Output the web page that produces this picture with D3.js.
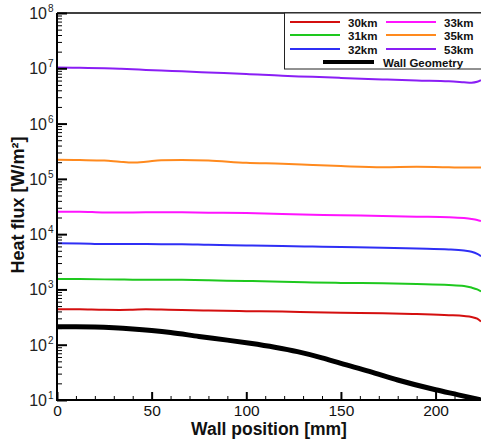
<!DOCTYPE html>
<html>
<head>
<meta charset="utf-8">
<script src="https://cdn.jsdelivr.net/npm/d3@7"></script>
<style>
  html, body { margin: 0; padding: 0; background: #fff; }
  svg { display: block; font-family: "Liberation Sans", Arial, sans-serif; }
</style>
</head>
<body>
<svg id="chart" width="481" height="439"></svg>
<script>
// ---- data ----
const xPos = [0, 12, 25, 33, 40, 47, 55, 66, 80, 100, 119, 135, 150, 172, 190, 207, 215, 219, 222, 224];
const flux30 = [438, 436, 427, 426, 430, 436, 432, 425, 415, 405, 397, 385, 378, 372, 358, 342, 330, 318, 295, 262];
const flux31 = [1550, 1540, 1520, 1510, 1500, 1500, 1500, 1490, 1460, 1420, 1380, 1340, 1310, 1290, 1250, 1200, 1150, 1080, 1000, 920];
const flux32 = [6850, 6800, 6600, 6600, 6600, 6600, 6580, 6550, 6400, 6250, 6100, 5950, 5850, 5700, 5500, 5300, 5050, 4800, 4400, 4000];
const flux33 = [25500, 25500, 24600, 24600, 24700, 24800, 25000, 24900, 24500, 24000, 23200, 22500, 22000, 21300, 20700, 20200, 19500, 18800, 18000, 17200];
const flux35 = [222000, 219000, 214000, 204000, 197000, 204000, 218000, 220000, 215000, 195000, 188000, 178000, 170000, 162000, 165000, 162000, 160000, 160000, 160000, 160000];
const flux53 = [1.03e7, 1.02e7, 1.0e7, 9.8e6, 9.6e6, 9.35e6, 9.1e6, 8.8e6, 8.4e6, 7.9e6, 7.3e6, 7.0e6, 6.7e6, 6.3e6, 6.0e6, 5.8e6, 5.6e6, 5.5e6, 5.7e6, 6.1e6];
const wallX = [0, 10, 20, 30, 40, 50, 60, 75, 90, 102, 115, 127, 140, 150, 165, 180, 200, 212, 224];
const wallY = [212, 212, 209, 202, 192, 180, 166, 141, 121, 106, 90, 75, 58, 46, 33, 23, 15.3, 12.4, 10];
const seriesNames = ["30km", "31km", "32km", "33km", "35km", "53km"];
const seriesColors = ["#d40f0f", "#1ec81e", "#2f2ff5", "#ff14ff", "#ff8a1e", "#8a1ef5"];
const xTicks = [0, 50, 100, 150, 200];
const yExponents = [1, 2, 3, 4, 5, 6, 7, 8];

const seriesValues = [flux30, flux31, flux32, flux33, flux35, flux53];

// ---- layout ----
const svg = d3.select("#chart");
const L = 57, R = 481, T = 13, B = 400;
const x = d3.scaleLinear().domain([0, 224]).range([L, R]);
const y = d3.scaleLog().domain([10, 1e8]).range([B, T]);

svg.append("defs").append("clipPath").attr("id", "clip")
  .append("rect").attr("x", L).attr("y", T).attr("width", R - L).attr("height", B - T);

const plot = svg.append("g").attr("clip-path", "url(#clip)");

const line = d3.line().x(d => x(d[0])).y(d => y(d[1])).curve(d3.curveMonotoneX);

// wall geometry
plot.append("path")
  .datum(wallX.map((v, i) => [v, wallY[i]]))
  .attr("d", line).attr("fill", "none").attr("stroke", "#000").attr("stroke-width", 5);

seriesValues.forEach((vals, k) => {
  plot.append("path")
    .datum(xPos.map((v, i) => [v, vals[i]]))
    .attr("d", line).attr("fill", "none")
    .attr("stroke", seriesColors[k]).attr("stroke-width", 2);
});

// ---- axes ----
const xMinor = d3.range(0, 225, 10).filter(v => v % 50 !== 0);
const xAxisMajor = d3.axisBottom(x).tickValues(xTicks).tickSizeInner(-8).tickSizeOuter(0).tickPadding(0).tickFormat(d3.format("d"));
const gx = svg.append("g").attr("transform", `translate(0,${B})`).call(xAxisMajor);
gx.select(".domain").remove();
gx.selectAll(".tick line").attr("stroke", "#000").attr("stroke-width", 2);
gx.selectAll(".tick text").attr("font-size", 15.5).attr("fill", "#111").attr("y", 15.5).attr("dy", null);
const gxm = svg.append("g").attr("transform", `translate(0,${B})`)
  .call(d3.axisBottom(x).tickValues(xMinor).tickSizeInner(-4).tickSizeOuter(0).tickFormat(""));
gxm.select(".domain").remove();
gxm.selectAll(".tick line").attr("stroke", "#000").attr("stroke-width", 1);

// y axis
const yMajorVals = yExponents.map(e => Math.pow(10, e));
const yMinorVals = [];
yExponents.slice(0, -1).forEach(e => { for (let m = 2; m <= 9; m++) yMinorVals.push(m * Math.pow(10, e)); });
const gy = svg.append("g").attr("transform", `translate(${L},0)`)
  .call(d3.axisLeft(y).tickValues(yMajorVals).tickSizeInner(-10).tickSizeOuter(0).tickFormat(""));
gy.select(".domain").remove();
gy.selectAll(".tick line").attr("stroke", "#000").attr("stroke-width", 2);
const gym = svg.append("g").attr("transform", `translate(${L},0)`)
  .call(d3.axisLeft(y).tickValues(yMinorVals).tickSizeInner(-5).tickSizeOuter(0).tickFormat(""));
gym.select(".domain").remove();
gym.selectAll(".tick line").attr("stroke", "#000").attr("stroke-width", 1);

// y labels 10^n
yExponents.forEach(e => {
  svg.append("text").attr("x", 47).attr("y", y(Math.pow(10, e)) + 6)
    .attr("text-anchor", "end").attr("font-size", 16).attr("fill", "#222").text("10");
  svg.append("text").attr("x", 48).attr("y", y(Math.pow(10, e)) - 1)
    .attr("font-size", 10).attr("fill", "#222").text(String(e));
});

// frame lines
svg.append("line").attr("x1", L).attr("x2", L).attr("y1", T).attr("y2", B + 1).attr("stroke", "#000").attr("stroke-width", 2);
svg.append("line").attr("x1", L - 1).attr("x2", R).attr("y1", B).attr("y2", B).attr("stroke", "#000").attr("stroke-width", 2);
svg.append("line").attr("x1", L).attr("x2", R).attr("y1", T).attr("y2", T).attr("stroke", "#000").attr("stroke-width", 1.5);

// axis titles
svg.append("text").attr("x", 269).attr("y", 435).attr("text-anchor", "middle")
  .attr("font-size", 17.5).attr("font-weight", "bold").attr("fill", "#111").text("Wall position [mm]");
svg.append("text").attr("transform", "translate(24,205) rotate(-90)").attr("text-anchor", "middle")
  .attr("font-size", 18).attr("font-weight", "bold").attr("fill", "#111")
  .text("Heat flux [W/m²]");

// ---- legend ----
const lg = svg.append("g");
lg.append("rect").attr("x", 284.5).attr("y", 13).attr("width", 210).attr("height", 56)
  .attr("fill", "#fff").attr("stroke", "#222").attr("stroke-width", 1);
const rowsY = [22, 35, 49];
seriesNames.forEach((name, k) => {
  const col = Math.floor(k / 3), row = k % 3;
  const x0 = col === 0 ? 290 : 386;
  lg.append("line").attr("x1", x0).attr("x2", x0 + 50).attr("y1", rowsY[row]).attr("y2", rowsY[row])
    .attr("stroke", seriesColors[k]).attr("stroke-width", 2);
  lg.append("text").attr("x", x0 + 58).attr("y", rowsY[row] + 4.5)
    .attr("font-size", 11.5).attr("font-weight", "bold").attr("fill", "#111").text(name);
});
lg.append("line").attr("x1", 323).attr("x2", 374).attr("y1", 62).attr("y2", 62)
  .attr("stroke", "#000").attr("stroke-width", 4);
lg.append("text").attr("x", 383).attr("y", 66.5)
  .attr("font-size", 11.5).attr("font-weight", "bold").attr("fill", "#111").text("Wall Geometry");
</script>
</body>
</html>
